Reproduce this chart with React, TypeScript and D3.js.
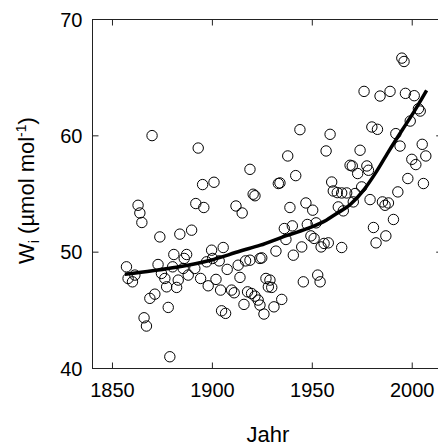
import React from "react";
import * as d3 from "d3";

const years = [
  1869.8, 1892.9, 1918.8, 1895.1, 1900.8, 1920.4, 1921.3, 1891.7, 1994.8, 1995.9,
  1975.9, 1983.9, 1988.9, 1996.6, 2001.0, 2003.1, 2004.0, 1999.0, 1943.8, 1958.9,
  1979.8, 1982.6, 1991.8, 1993.9, 2005.0, 2006.8, 1999.8, 2001.8, 1997.8, 2005.6,
  1992.8, 1973.9, 1956.9, 1937.7, 1941.7, 1933.0, 1933.8, 1968.9, 1970.0, 1977.3,
  1978.1, 1972.7, 1959.7, 1960.5, 1962.5, 1964.7, 1967.2, 1971.4, 1974.7, 1970.5,
  1978.9, 1985.1, 1986.4, 1988.1, 1990.6, 1980.6, 1986.8, 1981.9, 1938.8, 1946.8,
  1950.2, 1963.0, 1965.5, 1936.0, 1940.0, 1936.8, 1947.5, 1951.9, 1949.3, 1950.9,
  1954.4, 1955.9, 1958.0, 1964.7, 1944.7, 1931.8, 1940.5, 1924.7, 1918.8, 1926.8,
  1928.8, 1928.0, 1929.7, 1945.5, 1952.7, 1953.9, 1934.7, 1919.6, 1921.3, 1922.9,
  1923.8, 1930.8, 1925.8, 1862.8, 1863.7, 1864.7, 1895.7, 1911.8, 1914.9, 1873.7,
  1883.7, 1889.6, 1857.0, 1857.8, 1860.0, 1861.2, 1872.8, 1874.5, 1876.2, 1877.1,
  1880.7, 1880.1, 1882.9, 1882.1, 1885.9, 1887.1, 1885.4, 1887.9, 1891.2, 1894.1,
  1897.9, 1897.1, 1899.6, 1900.1, 1901.8, 1903.4, 1905.4, 1904.1, 1907.4, 1909.6,
  1910.9, 1912.9, 1916.6, 1913.8, 1904.6, 1906.6, 1915.8, 1917.6, 1923.8, 1868.7,
  1871.2, 1877.9, 1865.8, 1867.0, 1878.7,
];

const values = [
  60.02, 58.95, 57.12, 55.81, 56.01, 54.98, 54.85, 54.18, 66.68, 66.39,
  63.82, 63.42, 63.82, 63.65, 63.45, 62.33, 62.13, 61.27, 60.53, 60.13,
  60.76, 60.56, 60.19, 59.12, 59.27, 58.27, 57.98, 57.53, 56.33, 55.90,
  55.18, 58.76, 58.70, 58.27, 56.58, 55.90, 55.95, 57.47, 57.41, 57.41,
  57.04, 56.76, 56.03, 55.26, 55.12, 55.09, 55.09, 55.04, 55.61, 54.32,
  54.52, 54.32, 54.03, 54.23, 52.81, 52.12, 51.40, 50.80, 53.84, 54.23,
  53.61, 53.89, 53.55, 52.03, 52.26, 51.09, 52.38, 52.52, 51.40, 51.18,
  50.45, 50.75, 50.80, 50.40, 50.45, 50.09, 49.74, 49.51, 49.31, 47.74,
  47.60, 47.02, 46.97, 47.45, 48.03, 47.45, 45.94, 46.45, 46.22, 45.88,
  45.45, 45.30, 44.68, 54.03, 53.37, 52.55, 53.84, 53.97, 53.37, 51.31,
  51.55, 51.89, 48.74, 47.74, 47.45, 48.03, 48.94, 48.17, 47.74, 47.02,
  49.80, 48.74, 47.60, 46.97, 49.46, 49.80, 48.60, 48.03, 48.60, 47.74,
  47.11, 49.17, 50.17, 49.46, 47.66, 49.25, 50.40, 46.74, 48.52, 46.74,
  46.51, 48.88, 49.25, 47.83, 44.96, 44.74, 45.51, 46.59, 49.46, 46.03,
  46.39, 45.25, 44.36, 43.65, 41.01,
];

const fitYears = [1856.2, 1870, 1882, 1899, 1914, 1924, 1935, 1947, 1957, 1962, 1969, 1976, 1982, 1988, 1995, 2001, 2007.2];
const fitValues = [48.1, 48.4, 48.7, 49.3, 50.1, 50.6, 51.3, 52.0, 52.75, 53.3, 54.1, 55.4, 56.9, 58.6, 60.5, 62.1, 63.9];

const xTicks = [1850, 1900, 1950, 2000];
const yTicks = [40, 50, 60, 70];

export default function App() {
  const W = 438;
  const H = 445;
  const left = 92.5, right = 442.2, top = 19.5, bottom = 368.5;
  const x = d3.scaleLinear().domain([1840, 2015]).range([left, right]);
  const y = d3.scaleLinear().domain([40, 70]).range([bottom, top]);

  const fit = fitYears.map((yr, i) => [yr, fitValues[i]] as [number, number]);
  const linePath = d3
    .line<[number, number]>()
    .x((d) => x(d[0]))
    .y((d) => y(d[1]))
    .curve(d3.curveMonotoneX)(fit) as string;

  const axisColor = "#222";
  const tickLen = 6;
  const font = "'Liberation Sans', Arial, Helvetica, sans-serif";

  return (
    <svg
      width={W}
      height={H}
      style={{ position: "fixed", left: 0, top: 0, background: "#fff" }}
      fontFamily={font}
    >
      <rect x={0} y={0} width={W} height={H} fill="#fff" />
      {/* frame */}
      <rect x={left} y={top} width={right - left} height={bottom - top} fill="none" stroke={axisColor} strokeWidth={1} />
      {xTicks.map((t) => (
        <g key={"x" + t}>
          <line x1={x(t)} x2={x(t)} y1={bottom} y2={bottom - tickLen} stroke={axisColor} />
          <line x1={x(t)} x2={x(t)} y1={top} y2={top + tickLen} stroke={axisColor} />
          <text x={x(t)} y={397} textAnchor="middle" fontSize={20} fill="#000">
            {t}
          </text>
        </g>
      ))}
      {yTicks.map((t) => (
        <g key={"y" + t}>
          <line x1={left} x2={left + tickLen} y1={y(t)} y2={y(t)} stroke={axisColor} />
          <line x1={right} x2={right - tickLen} y1={y(t)} y2={y(t)} stroke={axisColor} />
          <text x={82.5} y={y(t) + 7} textAnchor="end" fontSize={20} fill="#000">
            {t}
          </text>
        </g>
      ))}
      {/* points */}
      {years.map((yr, i) => (
        <circle key={i} cx={x(yr)} cy={y(values[i])} r={5.2} fill="none" stroke="#000" strokeWidth={1} />
      ))}
      {/* fit line */}
      <path d={linePath} fill="none" stroke="#000" strokeWidth={3.5} strokeLinecap="butt" />
      {/* axis titles */}
      <text x={268} y={441.5} textAnchor="middle" fontSize={22} fill="#000">
        Jahr
      </text>
      <text transform="translate(33.5,190.5) rotate(-90)" textAnchor="middle" fontSize={22} fill="#000">
        <tspan>W</tspan>
        <tspan fontSize={14} dy={5}>i</tspan>
        <tspan dy={-5}> (µmol mol</tspan>
        <tspan fontSize={14} dy={-8}>-1</tspan>
        <tspan dy={8}>)</tspan>
      </text>
    </svg>
  );
}
